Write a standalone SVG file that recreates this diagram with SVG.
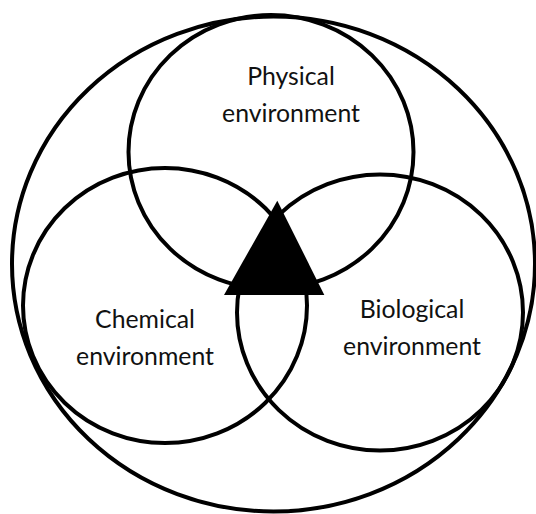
<svg xmlns="http://www.w3.org/2000/svg" width="536" height="514" viewBox="0 0 536 514">
  <style>
    .ring { fill: none; stroke: #000; stroke-width: 4; }
    .label { font-family: Lato, "Open Sans", "Liberation Sans", sans-serif; font-size: 24.8px; fill: #111; text-anchor: middle; }
  </style>
  <rect width="536" height="514" fill="#fff"/>

  <!-- enclosing environment -->
  <g id="environment">
    <ellipse class="ring" cx="273.5" cy="264" rx="261.5" ry="247.5"/>
  </g>

  <g id="physical">
    <ellipse class="ring" cx="271" cy="152" rx="142.5" ry="137"/>
    <text class="label" x="291" y="85">Physical</text>
    <text class="label" x="291" y="121.5">environment</text>
  </g>

  <g id="chemical">
    <ellipse class="ring" cx="165" cy="305.5" rx="142" ry="137.5"/>
    <text class="label" x="145" y="328">Chemical</text>
    <text class="label" x="145" y="364.5">environment</text>
  </g>

  <g id="biological">
    <ellipse class="ring" cx="380" cy="312.5" rx="143" ry="138"/>
    <text class="label" x="412" y="318">Biological</text>
    <text class="label" x="412" y="354.5">environment</text>
  </g>

  <!-- central triangle drawn over the overlap -->
  <g id="triangle">
    <polygon points="277.3,200.7 224,295 324.3,295" fill="#000"/>
  </g>
</svg>
